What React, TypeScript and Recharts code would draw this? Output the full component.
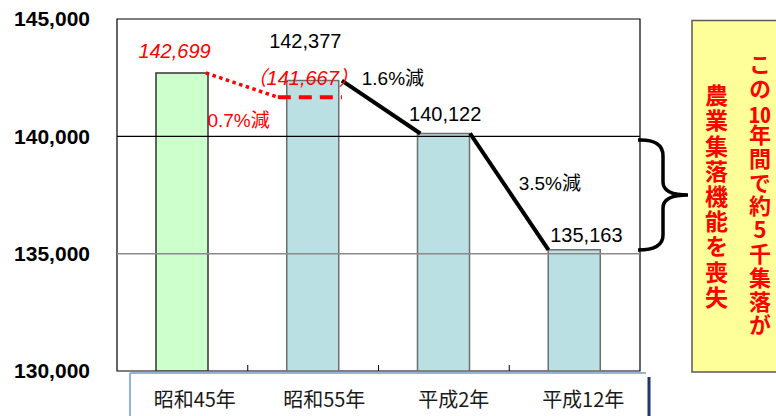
import React from 'react';
import {
  ComposedChart,
  Bar,
  Cell,
  XAxis,
  YAxis,
  ReferenceLine,
  ReferenceArea,
  ReferenceDot,
} from 'recharts';

// ---------- data ----------
const categories = ['昭和45年', '昭和55年', '平成2年', '平成12年'];
const settlements = [142699, 142377, 140122, 135163];
const adjustedShowa55 = 141667;
const yTicks = [130000, 135000, 140000, 145000];
const declineLabels = ['0.7%減', '1.6%減', '3.5%減'];
const noteRightParts = ['この', '10', '年間で約5千集落が'];
const noteLeft = '農業集落機能を喪失';

const fmt = (v: number) => v.toLocaleString('en-US');

const data = categories.map((name, i) => ({ x: i + 0.5, name, value: settlements[i] }));

// ---------- styles / layout ----------
const barFills = ['#CCFFCC', '#BBE0E3', '#BBE0E3', '#BBE0E3'];
const barStrokes = ['#333333', '#6e6e6e', '#6e6e6e', '#6e6e6e'];
const HALF_BAR = 0.2; // bar half-width in x-axis units
const LATIN = "'Liberation Sans', Arial, 'Noto Sans CJK JP', sans-serif";
const CJK = "'Noto Sans CJK JP', 'Liberation Sans', sans-serif";

type Note = { text: string; x: number; y: number; color: string; italic?: boolean; size: number };
const notes: Note[] = [
  { text: fmt(settlements[0]), x: 0.44, y: 143638, color: '#FF0000', italic: true, size: 20 },
  { text: fmt(settlements[1]), x: 1.44, y: 144064, color: '#000000', size: 20 },
  { text: '（' + fmt(adjustedShowa55) + '）', x: 1.42, y: 142489, color: '#FF0000', italic: true, size: 20 },
  { text: declineLabels[1], x: 2.11, y: 142447, color: '#000000', size: 19 },
  { text: declineLabels[0], x: 0.93, y: 140660, color: '#FF0000', size: 19 },
  { text: fmt(settlements[2]), x: 2.51, y: 140957, color: '#000000', size: 20 },
  { text: declineLabels[2], x: 3.31, y: 137979, color: '#000000', size: 19 },
  { text: fmt(settlements[3]), x: 3.59, y: 135809, color: '#000000', size: 20 },
];

const XTick = (props: any) => {
  const { x, y, payload } = props;
  const v = payload.value as number;
  if (Number.isInteger(v)) {
    return <line x1={x} x2={x} y1={y} y2={y - 6} stroke="#000" strokeWidth={1} />;
  }
  const idx = Math.floor(v);
  const dx = 13 - (x - 117) * 0.0096;
  return (
    <text
      x={x + dx}
      y={y + 27}
      textAnchor="middle"
      dominantBaseline="central"
      fill="#1a1a1a"
      fontSize={20}
      fontFamily={CJK}
    >
      {categories[idx]}
    </text>
  );
};

const makeNoteShape = (n: Note) => (p: any) => (
  <text
    x={p.cx}
    y={p.cy}
    textAnchor="middle"
    dominantBaseline="central"
    fill={n.color}
    fontStyle={n.italic ? 'italic' : 'normal'}
    fontSize={n.size}
    fontFamily={LATIN}
  >
    {n.text}
  </text>
);

const verticalStyle = (cx: number, top: number, size: number, spacing: number): React.CSSProperties => ({
  position: 'absolute',
  left: cx - size / 2,
  top,
  width: size,
  writingMode: 'vertical-rl',
  textOrientation: 'upright',
  fontFamily: CJK,
  fontWeight: 'bold',
  fontSize: size,
  lineHeight: 1,
  letterSpacing: spacing,
  color: '#FF0000',
  whiteSpace: 'nowrap',
});

export default function App() {
  return (
    <div
      style={{
        position: 'absolute',
        left: 0,
        top: 0,
        width: 776,
        height: 416,
        overflow: 'hidden',
        background: '#fff',
        fontFamily: LATIN,
      }}
    >
      <ComposedChart
        width={776}
        height={416}
        data={data}
        margin={{ top: 19, right: 136, bottom: 0, left: 0 }}
      >
        <XAxis
          type="number"
          dataKey="x"
          domain={[0, 4]}
          ticks={[0.5, 1, 1.5, 2, 2.5, 3, 3.5]}
          interval={0}
          allowDataOverflow
          axisLine={false}
          tickLine={false}
          tickSize={0}
          tickMargin={0}
          height={45}
          tick={<XTick />}
        />
        <YAxis
          type="number"
          domain={[130000, 145000]}
          ticks={yTicks}
          interval={0}
          allowDataOverflow
          width={117}
          axisLine={false}
          tickLine={false}
          tickSize={0}
          tickMargin={27}
          tickFormatter={fmt}
          tick={{ fontSize: 21, fontWeight: 'bold', fill: '#000', fontFamily: LATIN }}
        />
        <ReferenceLine y={yTicks[2]} stroke="#000" strokeWidth={1.2} />
        <ReferenceLine y={yTicks[1]} stroke="#8a8a8a" strokeWidth={1.5} />
        <Bar dataKey="value" barSize={52} isAnimationActive={false} strokeWidth={1.5}>
          {data.map((d, i) => (
            <Cell key={d.name} fill={barFills[i]} stroke={barStrokes[i]} />
          ))}
        </Bar>
        <ReferenceArea
          x1={0}
          x2={4}
          y1={130000}
          y2={145000}
          fill="none"
          fillOpacity={0}
          stroke="#000"
          strokeWidth={1.2}
          ifOverflow="visible"
        />
        {/* 0.7% decline (dotted) to adjusted value */}
        <ReferenceLine
          segment={[
            { x: 0.5 + HALF_BAR - 0.02, y: settlements[0] },
            { x: 1.23, y: adjustedShowa55 },
          ]}
          stroke="#FF0000"
          strokeWidth={3.5}
          strokeDasharray="3.5 3.5"
          ifOverflow="visible"
        />
        <ReferenceLine
          segment={[
            { x: 1.23, y: adjustedShowa55 },
            { x: 1.72, y: adjustedShowa55 },
          ]}
          stroke="#FF0000"
          strokeWidth={4}
          strokeDasharray="13 8"
          ifOverflow="visible"
        />
        <ReferenceLine
          segment={[
            { x: 1.5 + HALF_BAR + 0.02, y: settlements[1] },
            { x: 2.5 - HALF_BAR + 0.02, y: settlements[2] },
          ]}
          stroke="#000"
          strokeWidth={4}
          ifOverflow="visible"
        />
        <ReferenceLine
          segment={[
            { x: 2.5 + HALF_BAR, y: settlements[2] },
            { x: 3.5 - HALF_BAR, y: settlements[3] },
          ]}
          stroke="#000"
          strokeWidth={4}
          ifOverflow="visible"
        />
        {notes.map((n, i) => (
          <ReferenceDot
            key={i}
            x={n.x}
            y={n.y}
            r={0}
            ifOverflow="visible"
            shape={makeNoteShape(n)}
          />
        ))}
      </ComposedChart>
      <svg
        width={776}
        height={416}
        style={{ position: 'absolute', left: 0, top: 0, pointerEvents: 'none' }}
      >
        {/* brace */}
        <path
          d="M638,140 Q663,139 663,156 L663,182 Q663,195 688,195 Q663,195 663,208 L663,235 Q663,250 638,250"
          fill="none"
          stroke="#000"
          strokeWidth={3.5}
        />
        {/* note box */}
        <rect x={692} y={20.5} width={100} height={351.5} fill="#FFFF99" stroke="#5a5a5a" strokeWidth={1.5} />
        {/* category label frame */}
        <line x1={130} y1={373} x2={646} y2={373} stroke="#95B3D7" strokeWidth={2} />
        <line x1={130} y1={373} x2={130} y2={416} stroke="#95B3D7" strokeWidth={2} />
        <line x1={649} y1={377} x2={649} y2={416} stroke="#1F3864" strokeWidth={3} />
      </svg>
      <div style={verticalStyle(760, 54, 22, 1.8)}>
        {noteRightParts[0]}
        <span style={{ textCombineUpright: 'all' } as React.CSSProperties}>{noteRightParts[1]}</span>
        {noteRightParts[2]}
      </div>
      <div style={verticalStyle(716, 84, 23, 2.2)}>{noteLeft}</div>
    </div>
  );
}
